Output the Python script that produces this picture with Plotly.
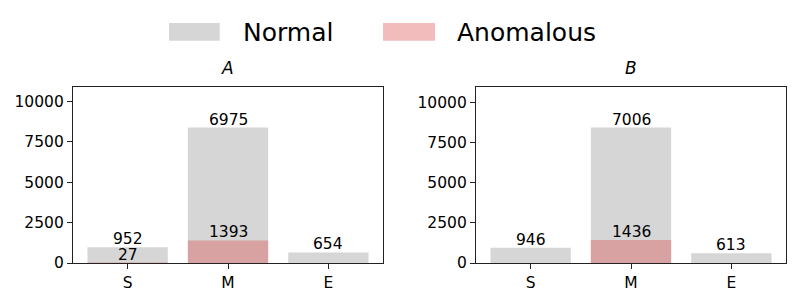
import plotly.graph_objects as go
from plotly.subplots import make_subplots

categories = ["S", "M", "E"]
panels = ["A", "B"]
normal_A = [952, 6975, 654]
anomalous_A = [27, 1393, 0]
normal_B = [946, 7006, 613]
anomalous_B = [0, 1436, 0]
y_ticks = [0, 2500, 5000, 7500, 10000]

GRAY = "rgb(214,214,214)"
RED = "rgba(220,72,72,0.37)"
PINK = "rgb(242,188,188)"
FONT = "DejaVu Sans"

W, H = 797, 302
L, R, T, B = 73, 11, 87, 39
pw = W - L - R
ph = H - T - B

def px(p):
    return (p - L) / pw

def py(p):
    return (H - B - p) / ph

fig = make_subplots(rows=1, cols=2, horizontal_spacing=(475.7 - 382.7) / pw)

data = [(normal_A, anomalous_A), (normal_B, anomalous_B)]
for i, (norm, anom) in enumerate(data):
    col = i + 1
    total = [n + a for n, a in zip(norm, anom)]
    fig.add_trace(go.Bar(x=categories, y=total, marker=dict(color=GRAY, line=dict(width=0)),
                         width=0.8, name="Normal", showlegend=False, hoverinfo="skip"), row=1, col=col)
    fig.add_trace(go.Bar(x=categories, y=anom, marker=dict(color=RED, line=dict(width=0)),
                         width=0.8, name="Anomalous", showlegend=False, hoverinfo="skip"), row=1, col=col)
    xr = "x" if i == 0 else "x2"
    yr = "y" if i == 0 else "y2"
    for c, n, t, a in zip(categories, norm, total, anom):
        fig.add_annotation(x=c, y=t, xref=xr, yref=yr, text=str(n), showarrow=False,
                           yanchor="bottom", yshift=-2, borderpad=0,
                           font=dict(size=15.5, color="black", family=FONT))
        if a > 0:
            fig.add_annotation(x=c, y=a, xref=xr, yref=yr, text=str(a), showarrow=False,
                               yanchor="bottom", yshift=-2, borderpad=0,
                               font=dict(size=15.5, color="black", family=FONT))
    ymax = max(total) * 1.3
    fig.update_yaxes(range=[0, ymax], tickvals=y_ticks, ticktext=[str(v) for v in y_ticks],
                     showline=True, mirror=True, linecolor="#222", linewidth=1.2,
                     ticks="outside", ticklen=5, tickcolor="#222", showgrid=False, zeroline=False,
                     tickfont=dict(size=15.5, family=FONT, color="black"), row=1, col=col)
    fig.update_xaxes(range=[-0.544, 2.544], showline=True, mirror=True, linecolor="#222", linewidth=1.2,
                     ticks="outside", ticklen=5, tickcolor="#222", showgrid=False, zeroline=False,
                     tickfont=dict(size=15.5, family=FONT, color="black"), row=1, col=col)

# subplot titles
for i, name in enumerate(panels):
    cx = 227.7 if i == 0 else 630.8
    fig.add_annotation(x=px(cx), y=py(80), xref="paper", yref="paper", text="<i>%s</i>" % name,
                       showarrow=False, yanchor="bottom", xanchor="center",
                       font=dict(size=17, family=FONT, color="black"))

# legend drawn manually (wide matplotlib-style swatches)
legend_items = [("Normal", GRAY, 169, 219.7, 240.7), ("Anomalous", PINK, 383, 435, 455)]
for label, color, x0, x1, tx in legend_items:
    fig.add_shape(type="rect", xref="paper", yref="paper", x0=px(x0), x1=px(x1),
                  y0=py(40.7), y1=py(23), fillcolor=color, line=dict(width=0))
    fig.add_annotation(x=px(tx), y=py(32), xref="paper", yref="paper", text=label, showarrow=False,
                       xanchor="left", yanchor="middle", font=dict(size=25, family=FONT, color="black"))

fig.update_layout(width=W, height=H, margin=dict(l=L, r=R, t=T, b=B), barmode="overlay",
                  plot_bgcolor="white", paper_bgcolor="white", showlegend=False,
                  font=dict(family=FONT, color="black"))

fig.write_html("out.html", config={"displayModeBar": False},
               post_script="document.body.style.margin='0';document.body.style.overflow='hidden';")
